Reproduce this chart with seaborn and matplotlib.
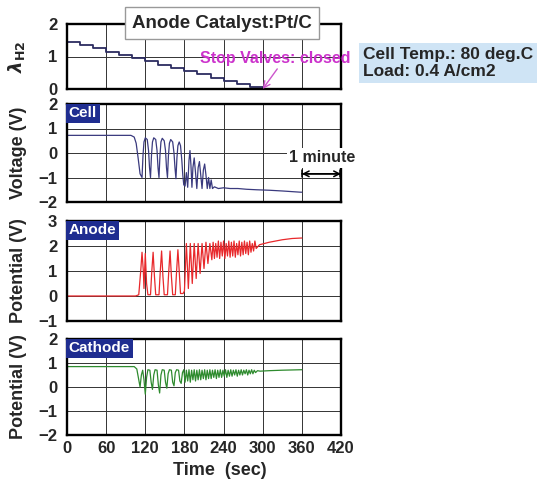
import pandas as pd
import seaborn as sns
import matplotlib.pyplot as plt

# hydrogen stoichiometry (step profile)
lam_t = [0, 20, 40, 60, 80, 100, 120, 140, 160, 180, 200, 220, 240, 260, 280, 300]
lam_v = [1.45, 1.35, 1.25, 1.15, 1.05, 0.95, 0.85, 0.75, 0.65, 0.55, 0.45, 0.35, 0.25, 0.15, 0.05, 0.0]

# cell voltage (V)
cell_t = [
    0, 98, 103, 106, 109, 112, 115, 116.5, 118, 120,
    123, 125, 126.5, 128, 129.5, 131, 133, 136, 138, 139.5,
    141, 142.5, 144, 146, 149, 151, 152.5, 154, 155.5, 157,
    159, 162, 164, 165.5, 167, 168.5, 170, 172, 174, 176,
    177.5, 179, 181, 183, 185, 187, 188.5, 190, 191.5, 193,
    195, 197, 199, 201, 203, 205, 207, 209, 211, 213,
    215, 217, 219, 221, 223, 226, 232, 240, 250, 262,
    275, 290, 310, 330, 358, 360]
cell_v = [
    0.72, 0.72, 0.65, 0.4, -0.2, -0.85, -1.0, -0.1, 0.45, 0.62,
    0.55, 0.1, -0.6, -1.0, -0.1, 0.45, 0.62, 0.55, 0.1, -0.6,
    -1.0, -0.1, 0.45, 0.6, 0.5, 0.1, -0.6, -1.0, -0.1, 0.4,
    0.55, 0.45, 0.0, -0.6, -1.05, -0.2, 0.3, 0.45, 0.3, -0.3,
    -0.9, -1.3, -1.35, -0.8, -1.4, -0.3, 0.1, -0.5, -1.4, -0.6,
    -0.2, -0.8, -1.45, -0.6, -0.35, -0.9, -1.45, -0.7, -0.45, -0.9,
    -1.45, -1.0, -1.45, -1.1, -1.45, -1.38, -1.45, -1.42, -1.45, -1.45,
    -1.48, -1.5, -1.52, -1.55, -1.6, -1.6]

# anode potential (V)
anode_t = [
    0, 105, 110, 113, 115, 117, 118, 120, 122, 124,
    128, 130, 132, 134, 136, 141, 143, 145, 147, 149,
    154, 156, 158, 160, 162, 166, 168, 170, 172, 174,
    178, 180, 183, 186, 189, 192, 195, 198, 201, 204,
    207, 210, 213, 216, 219, 222, 224, 226, 228, 230,
    232, 234, 236, 238, 240, 242, 244, 246, 248, 250,
    252, 254, 256, 258, 260, 262, 264, 266, 268, 270,
    272, 274, 276, 278, 280, 282, 284, 286, 288, 290,
    295, 310, 330, 345, 360]
anode_v = [
    0.0, 0.0, 0.05, 1.0, 1.75, 1.0, 0.3, 1.7, 0.5, 0.05,
    0.05, 1.0, 1.75, 0.8, 0.05, 0.05, 1.0, 1.8, 0.8, 0.05,
    0.05, 1.0, 1.8, 0.8, 0.05, 0.05, 1.0, 1.85, 1.0, 0.1,
    0.1, 0.2, 2.1, 0.3, 2.1, 0.5, 2.1, 0.7, 2.1, 0.9,
    2.1, 1.1, 2.15, 1.3, 2.1, 1.45, 2.15, 1.5, 2.1, 1.55,
    2.2, 1.5, 2.15, 1.6, 2.2, 1.5, 2.1, 1.6, 2.2, 1.55,
    2.15, 1.6, 2.2, 1.55, 2.1, 1.65, 2.2, 1.6, 2.15, 1.65,
    2.2, 1.7, 2.15, 1.65, 2.2, 1.75, 2.1, 1.8, 2.2, 1.9,
    2.05, 2.15, 2.25, 2.3, 2.32]

# cathode potential (V)
cath_t = [
    0, 103, 107, 110, 112, 114, 116, 118, 120, 122,
    124, 127, 129, 131, 133, 135, 138, 140, 142, 144,
    146, 149, 151, 153, 155, 157, 160, 162, 164, 166,
    168, 171, 173, 175, 177, 179, 181, 183, 185, 187,
    189, 191, 193, 195, 197, 199, 201, 203, 205, 207,
    209, 211, 213, 215, 217, 219, 221, 223, 225, 227,
    229, 231, 233, 235, 237, 239, 241, 243, 245, 247,
    249, 251, 253, 255, 257, 259, 261, 263, 265, 267,
    269, 271, 273, 275, 277, 279, 281, 283, 285, 287,
    289, 292, 296, 310, 330, 360]
cath_v = [
    0.85, 0.85, 0.75, 0.3, 0.0, 0.5, 0.7, 0.3, -0.3, 0.4,
    0.72, 0.7, 0.2, -0.1, 0.5, 0.72, 0.7, 0.1, -0.25, 0.5,
    0.72, 0.7, 0.2, -0.05, 0.55, 0.72, 0.7, 0.2, 0.05, 0.6,
    0.72, 0.7, 0.25, 0.15, 0.6, 0.72, 0.2, 0.7, 0.25, 0.72,
    0.2, 0.7, 0.3, 0.72, 0.25, 0.7, 0.3, 0.72, 0.3, 0.7,
    0.35, 0.72, 0.3, 0.7, 0.35, 0.72, 0.35, 0.7, 0.4, 0.72,
    0.35, 0.7, 0.4, 0.72, 0.4, 0.7, 0.45, 0.72, 0.4, 0.7,
    0.45, 0.72, 0.45, 0.7, 0.5, 0.72, 0.45, 0.7, 0.5, 0.72,
    0.5, 0.7, 0.55, 0.72, 0.5, 0.7, 0.55, 0.72, 0.55, 0.7,
    0.6, 0.68, 0.66, 0.68, 0.7, 0.72]

time_ticks = [0, 60, 120, 180, 240, 300, 360, 420]


def style_axis(ax, ylim, yticks, ylabel, show_x=False):
    ax.set_xlim(0, 420)
    ax.set_ylim(*ylim)
    ax.set_xticks(time_ticks)
    ax.set_yticks(yticks)
    ax.grid(True, color="#333333", linewidth=0.7)
    ax.tick_params(length=0, labelsize=12, pad=7)
    ax.tick_params(axis="x", pad=4)
    if not show_x:
        ax.set_xticklabels([])
    for s in ax.spines.values():
        s.set_visible(True)
        s.set_color("black")
        s.set_linewidth(1.7)
    ax.set_xlabel("")
    ax.set_ylabel(ylabel, fontsize=13, fontweight="bold")
    ax.yaxis.set_label_coords(-0.145, 0.5)


def panel_tag(ax, name):
    ax.text(0.006, 0.975, name, transform=ax.transAxes, ha="left", va="top",
            color="white", fontsize=11, fontweight="bold", zorder=5,
            bbox=dict(boxstyle="square,pad=0.18", facecolor="#1f2d90", edgecolor="none"))


def main():
    sns.set_style("white")
    plt.rcParams["font.family"] = ["Liberation Sans", "DejaVu Sans"]
    plt.rcParams["font.weight"] = "bold"

    fig = plt.figure(figsize=(5.45, 4.8), dpi=100)
    left, width = 67 / 545, 274 / 545
    ax1 = fig.add_axes([left, 1 - 89 / 480, width, 65 / 480])
    ax2 = fig.add_axes([left, 1 - 202 / 480, width, 98 / 480])
    ax3 = fig.add_axes([left, 1 - 321 / 480, width, 100 / 480])
    ax4 = fig.add_axes([left, 1 - 435 / 480, width, 96 / 480])

    lam = pd.DataFrame({"t": lam_t, "v": lam_v})
    sns.lineplot(data=lam, x="t", y="v", ax=ax1, color="#2c2c60", linewidth=1.3,
                 drawstyle="steps-post", estimator=None)
    style_axis(ax1, (0, 2), [0, 1, 2], r"$\lambda_{\rm H2}$")

    cell = pd.DataFrame({"t": cell_t, "v": cell_v})
    sns.lineplot(data=cell, x="t", y="v", ax=ax2, color="#3a3a7e", linewidth=0.9, estimator=None)
    style_axis(ax2, (-2, 2), [-2, -1, 0, 1, 2], "Voltage (V)")
    panel_tag(ax2, "Cell")

    anode = pd.DataFrame({"t": anode_t, "v": anode_v})
    sns.lineplot(data=anode, x="t", y="v", ax=ax3, color="#e8282b", linewidth=0.9, estimator=None)
    style_axis(ax3, (-1, 3), [-1, 0, 1, 2, 3], "Potential (V)")
    panel_tag(ax3, "Anode")

    cath = pd.DataFrame({"t": cath_t, "v": cath_v})
    sns.lineplot(data=cath, x="t", y="v", ax=ax4, color="#2e8b2e", linewidth=0.9, estimator=None)
    style_axis(ax4, (-2, 2), [-2, -1, 0, 1, 2], "Potential (V)", show_x=True)
    panel_tag(ax4, "Cathode")
    ax4.set_xlabel("Time  (sec)", fontsize=13, fontweight="bold")
    ax4.xaxis.set_label_coords(0.558, -0.28)

    # valve closing marker
    ax1.annotate("Stop Valves: closed", xy=(300, 0), xytext=(319, 0.95),
                 ha="center", va="center", color="#cc33cc", fontsize=11.5,
                 fontweight="bold", annotation_clip=False, zorder=6,
                 arrowprops=dict(arrowstyle="->", color="#cc55cc", lw=1.0,
                                 relpos=(0.53, 0.0), shrinkA=0, shrinkB=0))

    # one minute scale bar
    ax2.annotate("", xy=(360, -0.85), xytext=(420, -0.85),
                 arrowprops=dict(arrowstyle="<->", color="black", lw=1.1,
                                 shrinkA=0, shrinkB=0))
    ax2.annotate("", xy=(360, -0.85), xytext=(418, -0.85),
                 arrowprops=dict(arrowstyle="|-|,widthA=0.25,widthB=0.25",
                                 color="black", lw=1.1, shrinkA=0, shrinkB=0))
    ax2.text(391, -0.2, "1 minute", ha="center", va="center", fontsize=11.5,
             fontweight="bold", clip_on=False, zorder=6,
             bbox=dict(boxstyle="square,pad=0.15", facecolor="white", edgecolor="none"))

    fig.text(222 / 545, 1 - 23 / 480, "Anode Catalyst:Pt/C", ha="center", va="center",
             fontsize=13.5, fontweight="bold", zorder=10,
             bbox=dict(boxstyle="square,pad=0.4", facecolor="white", edgecolor="#999999", lw=1))

    fig.text(363 / 545, 1 - 63 / 480, "Cell Temp.: 80 deg.C\nLoad: 0.4 A/cm2",
             ha="left", va="center", fontsize=12.5, fontweight="bold", linespacing=1.15,
             bbox=dict(boxstyle="square,pad=0.25", facecolor="#cfe4f5", edgecolor="none"))

    fig.savefig("out.png", dpi=100)


if __name__ == "__main__":
    main()
